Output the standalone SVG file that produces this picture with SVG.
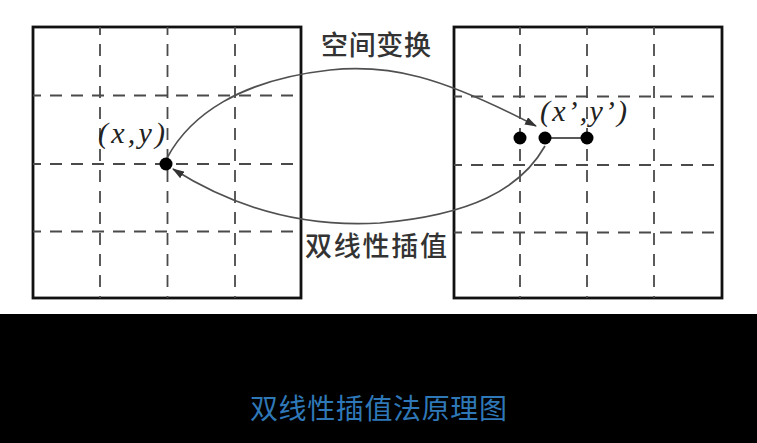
<svg xmlns="http://www.w3.org/2000/svg" width="757" height="443" viewBox="0 0 757 443">
<style>
.frame{fill:#fff;stroke:#111;stroke-width:2.8}
.grid{stroke:#4a4a4a;stroke-width:1.8;stroke-dasharray:12 9;fill:none}
.curve{fill:none;stroke:#505050;stroke-width:1.7}
.dot{fill:#000}
.math{font-family:"Liberation Serif",serif;font-style:italic;font-size:30px;fill:#222}
.cjk{font-family:"Noto Sans CJK SC",sans-serif;font-size:27px;font-weight:500;fill:#333}
.cap{font-family:"Noto Sans CJK SC",sans-serif;font-size:28px;fill:#2f78b8}
</style>
<defs>
<marker id="arr" markerWidth="12" markerHeight="8" refX="11" refY="4" orient="auto" markerUnits="userSpaceOnUse">
<path d="M0,0 L12,4 L0,8 Z" fill="#333"/>
</marker>
</defs>
<rect x="0" y="0" width="757" height="443" fill="#fff"/>
<rect x="0" y="314" width="757" height="129" fill="#000"/>
<g id="left-grid">
<rect class="frame" x="33" y="27" width="268" height="271"/>
<path class="grid" d="M100,27V298M167.5,27V298M235,27V298" stroke-dashoffset="4"/>
<path class="grid" d="M33,95.5H301M33,164H301M33,231.5H301" stroke-dashoffset="4"/>
</g>
<g id="right-grid">
<rect class="frame" x="454" y="27" width="268" height="271"/>
<path class="grid" d="M520,27V298M587,27V298M654,27V298" stroke-dashoffset="4"/>
<path class="grid" d="M454,96.5H722M454,165H722M454,232.5H722" stroke-dashoffset="4"/>
</g>
<g id="connectors">
<path class="curve" d="M167,158 C190,115 240,80 330,70 C390,64 440,76 536,126" marker-end="url(#arr)"/>
<path class="curve" d="M545,146 C520,190 470,215 380,223 C300,228 230,205 173,169" marker-end="url(#arr)"/>
<line x1="545" y1="138" x2="587" y2="138" stroke="#222" stroke-width="1.6"/>
</g>
<g id="point-xy">
<circle class="dot" cx="166" cy="164" r="6.5"/>
<text class="math" x="98" y="143" textLength="67" lengthAdjust="spacing">(x,y)</text>
</g>
<g id="point-xy-prime">
<circle class="dot" cx="520" cy="138" r="6.5"/>
<circle class="dot" cx="545" cy="138" r="6.5"/>
<circle class="dot" cx="587" cy="138" r="6.5"/>
<text class="math" x="540" y="121" textLength="87" lengthAdjust="spacing">(x’,y’)</text>
</g>
<g id="labels">
<text class="cjk" x="321" y="55" textLength="110" lengthAdjust="spacing">空间变换</text>
<text class="cjk" x="305" y="256" font-size="28" textLength="142" lengthAdjust="spacing">双线性插值</text>
</g>
<g id="caption">
<text class="cap" x="250" y="419" textLength="257" lengthAdjust="spacing">双线性插值法原理图</text>
</g>
</svg>
